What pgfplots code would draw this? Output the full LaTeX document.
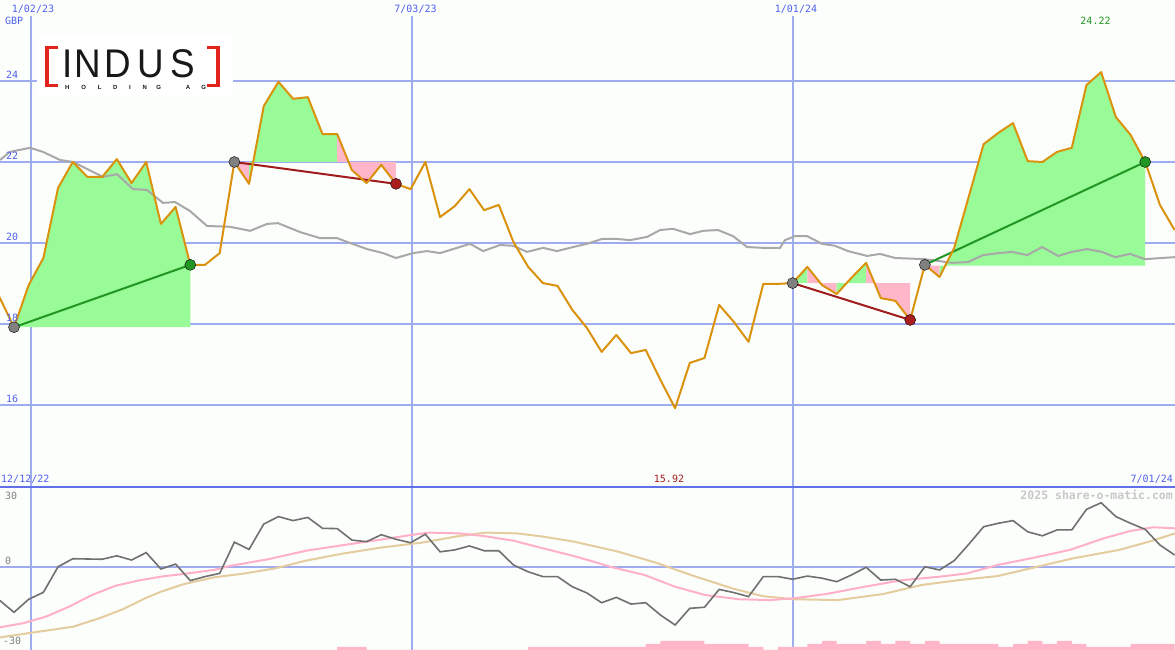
\documentclass[border=0pt]{standalone}
\usepackage{fontspec}
\setmainfont{Liberation Sans}
\newfontfamily\labfont{DejaVu Sans Mono}
\usepackage{pgfplots}
\usepackage{pgfplotstable}
\pgfplotsset{compat=1.18}

\definecolor{bg}{RGB}{252,254,252}
\definecolor{gridc}{RGB}{160,172,240}
\definecolor{labc}{RGB}{80,96,240}
\definecolor{topc}{RGB}{96,112,232}
\definecolor{pricec}{RGB}{218,146,12}
\definecolor{mac}{RGB}{168,168,168}
\definecolor{gfill}{RGB}{152,251,152}
\definecolor{pfill}{RGB}{255,182,200}
\definecolor{gline}{RGB}{34,150,34}
\definecolor{rline}{RGB}{160,28,28}
\definecolor{dotg}{RGB}{128,128,128}
\definecolor{dotr}{RGB}{170,30,30}
\definecolor{oscc}{RGB}{112,112,112}
\definecolor{pinkc}{RGB}{255,176,200}
\definecolor{tanc}{RGB}{228,204,158}
\definecolor{logored}{RGB}{226,36,28}
\definecolor{wmk}{RGB}{200,200,200}

\pgfplotstableread{
i v
-1 18.67
0 17.92
1 18.96
2 19.63
3 21.36
4 22.00
5 21.63
6 21.63
7 22.07
8 21.48
9 22.00
10 20.47
11 20.89
12 19.46
13 19.46
14 19.75
15 22.00
16 21.46
17 23.38
18 23.98
19 23.56
20 23.60
21 22.69
22 22.69
23 21.80
24 21.48
25 21.93
26 21.46
27 21.33
28 22.00
29 20.64
30 20.91
31 21.33
32 20.81
33 20.94
34 20.02
35 19.41
36 19.01
37 18.94
38 18.35
39 17.90
40 17.31
41 17.73
42 17.28
43 17.36
44 16.62
45 15.92
46 17.04
47 17.16
48 18.47
49 18.05
50 17.56
51 18.99
52 18.99
53 19.01
54 19.41
55 18.96
56 18.74
57 19.14
58 19.51
59 18.64
60 18.57
61 18.10
62 19.46
63 19.16
64 19.88
65 21.16
66 22.44
67 22.72
68 22.96
69 22.02
70 22.00
71 22.25
72 22.35
73 23.90
74 24.22
75 23.11
76 22.67
77 22.00
78 20.94
79 20.32
}\price

\pgfplotstableread{
i v
-0.95 22.05
-0.27 22.25
1.09 22.35
1.97 22.25
3.13 22.05
4.02 22.00
6.06 21.63
7.01 21.70
8.10 21.33
9.05 21.31
10.14 20.99
10.96 21.01
11.98 20.79
13.14 20.42
14.70 20.40
16.07 20.30
17.22 20.47
17.97 20.49
19.47 20.27
20.83 20.12
21.99 20.12
22.87 20.00
24.03 19.85
25.12 19.75
26.00 19.63
27.16 19.75
28.11 19.80
29.00 19.75
30.16 19.88
31.04 19.98
31.93 19.80
33.08 19.95
33.97 19.93
34.92 19.78
36.01 19.88
36.96 19.80
38.05 19.90
39.00 19.98
40.03 20.10
41.05 20.10
41.93 20.07
43.09 20.15
43.98 20.32
44.86 20.35
46.02 20.22
46.90 20.30
47.92 20.32
48.94 20.17
49.90 19.90
50.99 19.88
52.14 19.88
52.48 20.07
53.17 20.17
53.98 20.17
55.00 19.98
55.89 19.93
56.77 19.80
58.07 19.68
58.95 19.73
59.97 19.63
62.01 19.60
63.85 19.51
64.94 19.53
65.96 19.70
66.98 19.75
67.94 19.78
68.96 19.70
69.98 19.90
71.07 19.68
72.02 19.78
73.04 19.85
74.06 19.78
74.94 19.65
75.97 19.73
76.99 19.60
78.15 19.63
79.03 19.65
}\mavg

\pgfplotstableread{
i v
-1 -12.4
0 -17.0
1 -12.1
2 -9.5
3 0.1
4 3.1
5 3.0
6 2.9
7 4.2
8 2.6
9 5.4
10 -0.75
11 1.1
12 -5.1
13 -3.6
14 -2.4
15 9.3
16 6.6
17 16.1
18 18.9
19 17.4
20 18.6
21 14.5
22 14.4
23 10.1
24 9.5
25 12.1
26 10.4
27 9.1
28 12.3
29 5.7
30 6.4
31 7.9
32 6.1
33 6.1
34 0.75
35 -1.8
36 -3.6
37 -3.6
38 -7.4
39 -9.75
40 -13.4
41 -11.4
42 -13.9
43 -13.4
44 -18.0
45 -21.75
46 -15.5
47 -15.1
48 -8.4
49 -9.6
50 -11.1
51 -3.6
52 -3.6
53 -4.6
54 -3.4
55 -4.2
56 -5.5
57 -3.0
58 -0.1
59 -4.9
60 -4.6
61 -7.4
62 0.1
63 -1.1
64 2.4
65 8.6
66 15.1
67 16.4
68 17.4
69 13.2
70 11.7
71 13.9
72 13.9
73 21.6
74 24.1
75 18.9
76 16.4
77 14.1
78 8.25
79 4.5
}\osc

\pgfplotstableread{
i v
-0.95 -22.6
0.61 -21.1
2.18 -18.6
3.74 -14.9
5.31 -10.5
6.88 -7.1
8.44 -5.1
10.01 -3.6
11.57 -2.6
13.61 -1.1
14.70 0.4
17.29 2.9
19.88 6.1
22.46 8.25
25.12 10.4
27.03 12.0
28.25 12.9
30.29 12.6
31.86 11.7
33.97 9.9
36.01 7.0
38.12 4.1
39.82 1.4
40.57 0.1
42.92 -3.0
45.00 -7.4
47.04 -10.5
49.35 -12.1
51.46 -12.4
53.08 -11.75
55.32 -10.1
57.90 -7.4
60.49 -4.9
63.07 -3.6
64.87 -2.4
66.95 0.75
69.53 3.6
71.86 6.4
74.18 10.75
75.99 13.5
77.54 14.9
79.03 14.5
}\pinkma

\pgfplotstableread{
i v
-0.95 -26.4
1.63 -24.3
4.02 -22.4
5.82 -19.2
7.39 -15.9
8.92 -11.75
10.01 -9.25
11.57 -6.4
13.61 -3.9
15.72 -2.4
17.80 -0.5
19.88 2.4
22.46 5.1
25.12 7.4
27.71 9.1
30.29 11.6
32.13 12.9
34.24 12.6
36.01 11.4
38.12 9.5
39.82 7.4
41.12 5.75
43.70 1.6
46.29 -3.4
48.88 -8.0
50.92 -10.9
53.08 -12.1
56.09 -12.4
59.20 -10.1
61.78 -6.75
64.36 -4.9
66.95 -3.4
69.50 -0.1
72.09 3.25
75.22 6.4
77.26 9.5
79.03 12.6
}\tanma

\pgfplotstableread{
i h
22 3
23 3
24 0
35 3
36 3
37 3
38 3
39 3
40 3
41 3
42 3
43 6
44 9
45 9
46 9
47 6
48 6
49 6
50 3
51 0
52 3
53 3
54 6
55 9
56 6
57 6
58 9
59 6
60 9
61 6
62 9
63 6
64 6
65 6
66 6
67 3
68 6
69 9
70 6
71 9
72 6
73 3
74 3
75 3
76 6
77 6
78 6
79 0
}\vol

\pgfplotsset{
  base/.style={scale only axis, width=1175pt, xmin=-0.953, xmax=79.03,
    axis line style={draw=none}, xtick=\empty, major tick length=0pt,
    yticklabels={}, clip=true},
}
\tikzset{lab/.style={font=\labfont\fontsize{10}{12}\selectfont, inner sep=0pt}}

\begin{document}
\begin{tikzpicture}[x=1pt,y=1pt]
\useasboundingbox (0,0) rectangle (1175,650);
\fill[bg] (0,0) rectangle (1175,650);
\foreach \xx in {31,412,793} {\draw[gridc, line width=1.4pt] (\xx,0) -- (\xx,634);}

% upper panel
\begin{axis}[base, at={(0pt,163pt)}, anchor=south west, height=487pt,
  ymin=13.975, ymax=26, ytick={16,18,20,22,24}, ymajorgrids,
  grid style={gridc, line width=2pt}]
\addplot[fill=gfill, draw=none] coordinates {(0,17.92)(1,18.96)(2,19.63)(3,21.36)(4,22.00)(5,21.63)(6,21.63)(7,22.07)(8,21.48)(9,22.00)(10,20.47)(11,20.89)(12,19.46)(12,17.92)};
\addplot[fill=pfill, draw=none] coordinates {(15,22.0)(16,21.46)(16,22.0)};
\addplot[fill=gfill, draw=none] coordinates {(16,22.0)(16,21.46)(17,23.38)(18,23.98)(19,23.56)(20,23.60)(21,22.69)(22,22.69)(22,22.0)};
\addplot[fill=pfill, draw=none] coordinates {(22,22.0)(22,22.69)(23,21.80)(24,21.48)(25,21.93)(26,21.46)(26,22.0)};
\addplot[fill=gfill, draw=none] coordinates {(53,19.01)(54,19.41)(54,19.01)};
\addplot[fill=pfill, draw=none] coordinates {(54,19.01)(54,19.41)(55,18.96)(56,18.74)(56,19.01)};
\addplot[fill=gfill, draw=none] coordinates {(56,19.01)(56,18.74)(57,19.14)(58,19.51)(58,19.01)};
\addplot[fill=pfill, draw=none] coordinates {(58,19.01)(58,19.51)(59,18.64)(60,18.57)(61,18.10)(61,19.01)};
\addplot[fill=pfill, draw=none] coordinates {(62,19.44)(62,19.46)(63,19.16)(63,19.44)};
\addplot[fill=gfill, draw=none] coordinates {(63,19.44)(63,19.16)(64,19.88)(65,21.16)(66,22.44)(67,22.72)(68,22.96)(69,22.02)(70,22.00)(71,22.25)(72,22.35)(73,23.90)(74,24.22)(75,23.11)(76,22.67)(77,22.00)(77,19.44)};
\addplot[mac, line width=2pt] table[x=i,y=v] {\mavg};
\addplot[gline, line width=2pt] coordinates {(0,17.92)(12,19.46)};
\addplot[gline, line width=2pt] coordinates {(62,19.46)(77,22.0)};
\addplot[rline, line width=2pt] coordinates {(15,22.0)(26,21.46)};
\addplot[rline, line width=2pt] coordinates {(53,19.01)(61,18.10)};
\addplot[only marks, mark=*, mark size=5.5pt, mark options={draw=none, fill=dotg}] coordinates {(0,17.92)(15,22.0)(53,19.01)(62,19.46)};
\addplot[only marks, mark=*, mark size=5.5pt, mark options={draw=none, fill=gline}] coordinates {(12,19.46)(77,22.0)};
\addplot[only marks, mark=*, mark size=5.5pt, mark options={draw=none, fill=dotr}] coordinates {(26,21.46)(61,18.10)};
\addplot[pricec, line width=2pt, line join=round] table[x=i,y=v] {\price};
\end{axis}

% lower panel
\begin{axis}[base, at={(0pt,0pt)}, anchor=south west, height=163pt,
  ymin=0, ymax=163, ytick=\empty]
\addplot[ybar interval, fill=pfill, draw=none] table[x=i,y=h] {\vol};
\end{axis}
\begin{axis}[base, at={(0pt,0pt)}, anchor=south west, height=163pt,
  ymin=-31.125, ymax=30, ytick={0}, ymajorgrids,
  grid style={gridc, line width=2pt}]
\addplot[tanc, line width=2pt] table[x=i,y=v] {\tanma};
\addplot[pinkc, line width=2pt] table[x=i,y=v] {\pinkma};
\addplot[oscc, line width=1.6pt] table[x=i,y=v] {\osc};
\end{axis}

\draw[topc, line width=2.5pt] (0,163) -- (1175,163);

% logo
\fill[white] (37,553) rectangle (233,614);
\fill[logored] (45,562.7) rectangle (49.3,604.3);
\fill[logored] (45,601.3) rectangle (58.3,604.3);
\fill[logored] (45,562.7) rectangle (58.3,565.7);
\fill[logored] (215.7,562.7) rectangle (220,604.3);
\fill[logored] (206.7,601.3) rectangle (220,604.3);
\fill[logored] (206.7,562.7) rectangle (220,565.7);
\foreach \c/\xx in {I/67.7,N/87.5,D/118,U/151,S/183}
  {\node[anchor=base, inner sep=0pt, xscale=0.92, text={rgb,255:red,24;green,24;blue,24}, font=\fontsize{40}{40}\selectfont] at (\xx,572.3) {\c};}
\foreach \c/\xx in {H/67.2,O/83.8,L/99.8,D/115.2,I/130,N/144.7,G/158.8,A/188,G/203.8}
  {\node[anchor=base, inner sep=0pt, text={rgb,255:red,24;green,24;blue,24}, font=\bfseries\fontsize{6}{6}\selectfont] at (\xx,560) {\c};}

% labels
\node[lab, labc, anchor=base] at (33,637) {1/02/23};
\node[lab, labc, anchor=base] at (415.5,637) {7/03/23};
\node[lab, labc, anchor=base] at (796,637) {1/01/24};
\node[lab, labc, anchor=base west] at (5,625) {GBP};
\node[lab, gline, anchor=base] at (1095.5,625) {24.22};
\foreach \v/\p in {24/79,22/160,20/241,18/322,16/403}
  {\node[lab, labc, anchor=base west] at (6,650-\p) {\v};}
\node[lab, labc, anchor=base west] at (1,167) {12/12/22};
\node[lab, rline, anchor=base] at (669,167) {15.92};
\node[lab, labc, anchor=base east] at (1173,167) {7/01/24};
\node[lab, wmk, anchor=base east, font=\labfont\bfseries\fontsize{11.5}{12}\selectfont] at (1173,150) {2025 share-o-matic.com};
\node[lab, dotg, anchor=base west] at (5,150) {30};
\node[lab, dotg, anchor=base west] at (5,85) {0};
\node[lab, dotg, anchor=base west] at (3,5) {-30};
\end{tikzpicture}
\end{document}
